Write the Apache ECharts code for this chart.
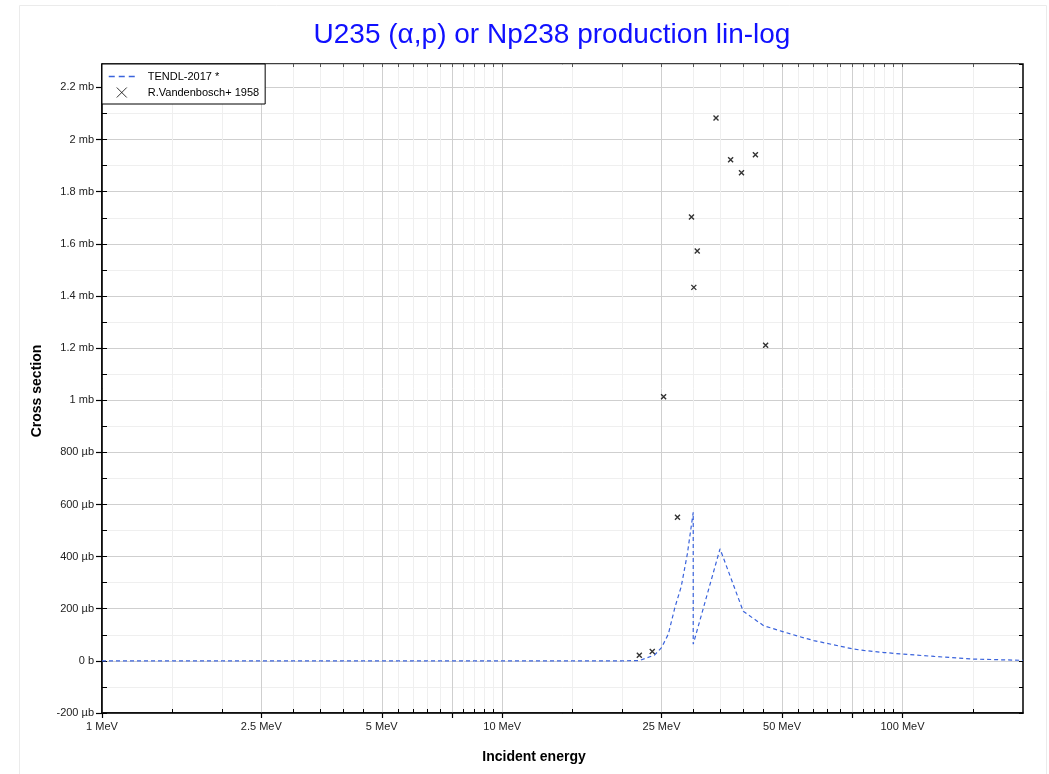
<!DOCTYPE html>
<html>
<head>
<meta charset="utf-8">
<script src="https://cdn.jsdelivr.net/npm/echarts@6/dist/echarts.min.js"></script>
<style>html,body{margin:0;padding:0;background:#fff}#chart{width:1049px;height:774px}</style>
</head>
<body>
<div id="chart"></div>
<script>
// TENDL-2017 evaluation: incident energy (MeV), cross section (µb)
const tendlEnergy = [1, 2, 5, 10, 15, 20, 22, 24, 25, 26, 27, 28, 29, 30, 30, 35, 40, 45, 50, 55, 60, 70, 75, 80, 90, 100, 120, 150, 200];
const tendlXs     = [0, 0, 0, 0, 0, 0.3, 1, 22, 51, 103, 205, 285, 410, 570, 64, 430, 190, 135, 113, 94, 78, 56, 46, 40, 32, 26, 17, 7, 2];
// R.Vandenbosch+ 1958 measurements
const expEnergy = [22.0, 23.7, 25.3, 27.4, 29.7, 30.1, 30.7, 34.2, 37.2, 39.6, 42.9, 45.5];
const expXs     = [22, 36, 1013, 551, 1703, 1433, 1573, 2083, 1923, 1873, 1942, 1211];
// axis ticks
const xLabelValues = [1, 2.5, 5, 10, 25, 50, 100];
const xMajorTicks  = [1, 2.5, 5, 7.5, 10, 25, 50, 75, 100];
const xMinorTicks  = [1.5, 2, 3, 3.5, 4, 4.5, 5.5, 6, 6.5, 7, 8, 8.5, 9, 9.5,
                      15, 20, 30, 35, 40, 45, 55, 60, 65, 70, 80, 85, 90, 95, 150];
const seriesNames = ['TENDL-2017 *', 'R.Vandenbosch+ 1958'];
const titleText = 'U235 (α,p) or Np238 production lin-log';

const chart = echarts.init(document.getElementById('chart'), null, {renderer: 'canvas'});
const FONT = 'Liberation Sans, Arial, sans-serif';
const X_MIN = 1, X_MAX = 200, Y_MIN = -200, Y_MAX = 2290;

function yFmt(v) {
  if (v === 0) return '0 b';
  if (Math.abs(v) < 1000) return v + ' µb';
  return (Math.round(v) / 1000) + ' mb';
}
const crossPath = 'path://M0,0L10,10M10,0L0,10';

const baseX = {type: 'log', logBase: 10, min: X_MIN, max: X_MAX, gridIndex: 0};
const baseY = {type: 'value', min: Y_MIN, max: Y_MAX, gridIndex: 0};

const option = {
  animation: false,
  backgroundColor: '#fff',
  textStyle: {fontFamily: FONT},
  graphic: [
    {type: 'rect', shape: {x: 19.5, y: 5.5, width: 1027, height: 770}, style: {fill: 'none', stroke: '#ebebeb', lineWidth: 1}, z: -10},
    {type: 'text', x: 552, y: 35, style: {text: titleText, fill: '#1010ff', font: '28px ' + FONT, textAlign: 'center', textVerticalAlign: 'middle'}},
    {type: 'text', x: 534, y: 757, style: {text: 'Incident energy', fill: '#000', font: 'bold 14px ' + FONT, textAlign: 'center', textVerticalAlign: 'middle'}},
    {type: 'text', x: 37, y: 391, rotation: Math.PI / 2, style: {text: 'Cross section', fill: '#000', font: 'bold 14px ' + FONT, textAlign: 'center', textVerticalAlign: 'middle'}}
  ],
  grid: {left: 102, right: 26, top: 64, bottom: 61, show: true, borderColor: '#000', borderWidth: 1.5, backgroundColor: 'transparent', containLabel: false},
  legend: {
    left: 102, top: 64, orient: 'vertical',
    backgroundColor: '#fff', borderColor: '#000', borderWidth: 1, borderRadius: 0,
    padding: [7, 6, 6, 6], itemGap: 5, itemWidth: 26, itemHeight: 10,
    textStyle: {fontSize: 11, color: '#000', fontFamily: FONT, padding: [0, 0, 0, 8]},
    data: [
      {name: seriesNames[0], lineStyle: {type: [6, 4], width: 1.5}, itemStyle: {color: 'rgba(0,0,0,0)', borderColor: 'rgba(0,0,0,0)', borderWidth: 0}},
      {name: seriesNames[1], icon: crossPath, itemStyle: {color: 'transparent', borderColor: '#000', borderWidth: 1}}
    ],
    z: 10
  },
  xAxis: [
    Object.assign({}, baseX, {
      position: 'bottom',
      axisLine: {show: true, onZero: false, lineStyle: {color: '#000', width: 1.5}},
      axisTick: {show: true, customValues: xMajorTicks, length: 5, lineStyle: {color: '#000', width: 1.2}},
      axisLabel: {show: true, customValues: xLabelValues, formatter: v => v + ' MeV', fontSize: 11, color: '#222', margin: 8, fontFamily: FONT},
      splitLine: {show: true, lineStyle: {color: '#cfcfcf', width: 1}},
      minorTick: {show: false}, minorSplitLine: {show: false}
    }),
    Object.assign({}, baseX, {
      position: 'bottom',
      axisLine: {show: false, onZero: false},
      axisTick: {show: true, customValues: xMinorTicks, inside: true, length: 4, lineStyle: {color: '#000', width: 1}},
      axisLabel: {show: false},
      splitLine: {show: true, lineStyle: {color: '#efefef', width: 1}}
    }),
    Object.assign({}, baseX, {
      position: 'top',
      axisLine: {show: false, onZero: false},
      axisTick: {show: true, customValues: xMajorTicks.concat(xMinorTicks), inside: true, length: 3, lineStyle: {color: '#555', width: 1}},
      axisLabel: {show: false},
      splitLine: {show: false}
    })
  ],
  yAxis: [
    Object.assign({}, baseY, {
      position: 'left', interval: 200,
      axisLine: {show: true, onZero: false, lineStyle: {color: '#000', width: 1.5}},
      axisTick: {show: true, length: 6, lineStyle: {color: '#000', width: 1.2}},
      axisLabel: {show: true, formatter: yFmt, fontSize: 11, color: '#222', margin: 8, showMaxLabel: false, fontFamily: FONT},
      splitLine: {show: true, lineStyle: {color: '#cfcfcf', width: 1}},
      minorTick: {show: false, splitNumber: 2},
      minorSplitLine: {show: true, lineStyle: {color: '#efefef', width: 1}}
    }),
    Object.assign({}, baseY, {
      position: 'left', interval: 100,
      axisLine: {show: false, onZero: false},
      axisTick: {show: true, inside: true, length: 5, lineStyle: {color: '#000', width: 1}},
      axisLabel: {show: false}, splitLine: {show: false}
    }),
    Object.assign({}, baseY, {
      position: 'right', interval: 100,
      axisLine: {show: false, onZero: false},
      axisTick: {show: true, inside: true, length: 4, lineStyle: {color: '#000', width: 1}},
      axisLabel: {show: false}, splitLine: {show: false}
    })
  ],
  series: [
    {
      name: seriesNames[0], type: 'line', xAxisIndex: 0, yAxisIndex: 0,
      data: tendlEnergy.map((e, i) => [e, tendlXs[i]]),
      showSymbol: false, symbol: 'none',
      lineStyle: {color: '#3a63dc', width: 1.2, type: [4, 3]},
      itemStyle: {color: '#3a63dc'},
      z: 3
    },
    {
      name: seriesNames[1], type: 'scatter', xAxisIndex: 0, yAxisIndex: 0,
      data: expEnergy.map((e, i) => [e, expXs[i]]),
      symbol: crossPath, symbolSize: 5,
      itemStyle: {color: 'transparent', borderColor: '#000', borderWidth: 1.4},
      z: 4
    }
  ]
};
chart.setOption(option);
</script>
</body>
</html>
